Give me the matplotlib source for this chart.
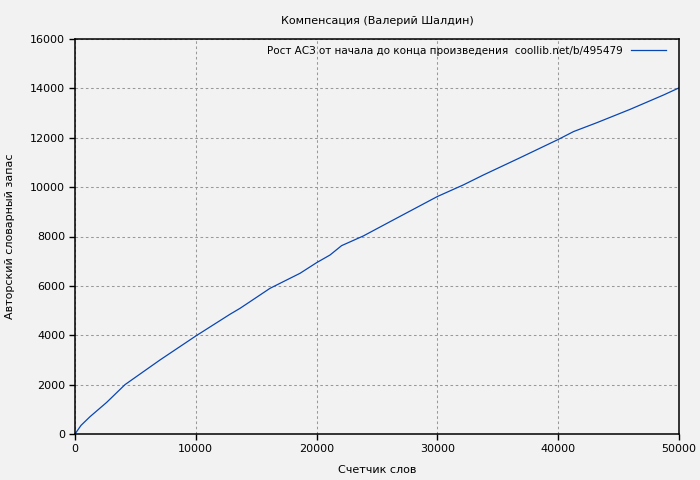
import matplotlib
matplotlib.use("Agg")
import matplotlib.pyplot as plt

# word counter vs. author vocabulary
words = [0, 500, 1240, 2620, 4140, 7040, 10000, 12830, 13660, 14490, 16140,
         18630, 20000, 21110, 22070, 23860, 26080, 30000, 32150, 33800, 36840,
         40000, 41270, 43200, 45950, 48710, 50000]
vocab = [0, 350, 700, 1280, 2000, 3000, 3970, 4850, 5090, 5360, 5900,
         6510, 6940, 7250, 7630, 8020, 8600, 9620, 10090, 10490, 11190,
         11930, 12250, 12610, 13150, 13730, 14020]

title = "Компенсация (Валерий Шалдин)"
series_label = "Рост АСЗ от начала до конца произведения  coollib.net/b/495479"
xticks = [0, 10000, 20000, 30000, 40000, 50000]
yticks = list(range(0, 16001, 2000))

bg = "#f2f2f2"
fig = plt.figure(figsize=(7, 4.8), dpi=100, facecolor=bg)
ax = fig.add_axes([75 / 700, 46 / 480, 604 / 700, 395 / 480], facecolor=bg)

ax.plot(words, vocab, color="#0846b4", lw=0.9, label=series_label)
ax.set_xlim(0, 50000)
ax.set_ylim(0, 16000)
ax.set_xticks(xticks)
ax.set_yticks(yticks)
ax.tick_params(labelsize=8, direction="out", length=4, width=1, pad=3,
               top=False, right=False)
ax.grid(True, color="#999999", ls=(0, (2.5, 2.5)), lw=0.75)
ax.set_axisbelow(True)
for sp in ax.spines.values():
    sp.set_linewidth(1.1)

ax.set_title(title, fontsize=8, pad=11)
ax.set_xlabel("Счетчик слов", fontsize=8, labelpad=8)
ax.set_ylabel("Авторский словарный запас", fontsize=8, labelpad=11)

leg = ax.legend(loc="upper right", fontsize=7.5, frameon=False, handlelength=3.4,
                markerfirst=False, borderaxespad=0.35, handletextpad=0.8,
                borderpad=0.3, bbox_to_anchor=(0.99, 1.0))

fig.savefig("out.png", dpi=100, facecolor=bg)
